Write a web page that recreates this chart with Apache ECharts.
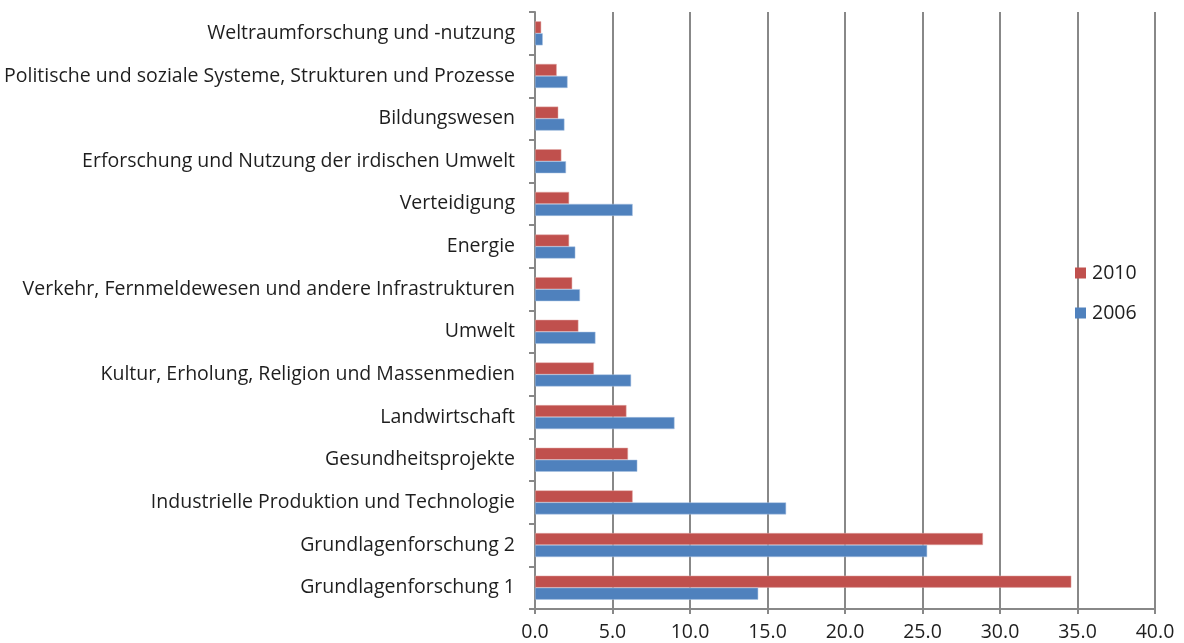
<!DOCTYPE html>
<html>
<head>
<meta charset="utf-8">
<script src="https://cdn.jsdelivr.net/npm/echarts@6/dist/echarts.min.js"></script>
<style>
  html, body { margin: 0; padding: 0; background: #fff; }
  #chart { width: 1184px; height: 643px; }
</style>
</head>
<body>
<div id="chart"></div>
<script>
// Categories listed from the bottom of the axis to the top
const categories = [
  'Grundlagenforschung 1',
  'Grundlagenforschung 2',
  'Industrielle Produktion und Technologie',
  'Gesundheitsprojekte',
  'Landwirtschaft',
  'Kultur, Erholung, Religion und Massenmedien',
  'Umwelt',
  'Verkehr, Fernmeldewesen und andere Infrastrukturen',
  'Energie',
  'Verteidigung',
  'Erforschung und Nutzung der irdischen Umwelt',
  'Bildungswesen',
  'Politische und soziale Systeme, Strukturen und Prozesse',
  'Weltraumforschung und -nutzung'
];
const values2010 = [34.6, 28.9, 6.3, 6.0, 5.9, 3.8, 2.8, 2.4, 2.2, 2.2, 1.7, 1.5, 1.4, 0.4];
const values2006 = [14.4, 25.3, 16.2, 6.6, 9.0, 6.2, 3.9, 2.9, 2.6, 6.3, 2.0, 1.9, 2.1, 0.5];
const xTicks = { min: 0, max: 40, step: 5 };

const FONT = '"Open Sans", "Noto Sans", sans-serif';
const AXIS_GRAY = '#888888';
const TEXT = '#1e1e1e';
const FS = 19.5;

const chart = echarts.init(document.getElementById('chart'), null, { renderer: 'canvas' });
chart.setOption({
  animation: false,
  textStyle: { fontFamily: FONT },
  grid: { left: 535, right: 29, top: 12, bottom: 34, containLabel: false },
  legend: {
    orient: 'vertical',
    left: 1070,
    top: 257,
    data: ['2010', '2006'],
    icon: 'rect',
    itemWidth: 11,
    itemHeight: 11,
    itemGap: 18,
    itemStyle: { borderWidth: 0 },
    textStyle: { fontFamily: FONT, fontSize: FS, color: TEXT, lineHeight: 22, padding: [0, 0, 0, 1] }
  },
  xAxis: {
    type: 'value',
    min: xTicks.min,
    max: xTicks.max,
    interval: xTicks.step,
    axisLine: { show: true, lineStyle: { color: AXIS_GRAY, width: 2 } },
    axisTick: { show: true, length: 5, lineStyle: { color: AXIS_GRAY, width: 2 } },
    splitLine: { show: true, lineStyle: { color: AXIS_GRAY, width: 2 } },
    axisLabel: {
      fontFamily: FONT, fontSize: FS, color: TEXT, margin: 13,
      formatter: v => v.toFixed(1)
    }
  },
  yAxis: {
    type: 'category',
    data: categories,
    axisLine: { show: true, lineStyle: { color: AXIS_GRAY, width: 2 } },
    axisTick: { show: true, length: 6, lineStyle: { color: AXIS_GRAY, width: 2 } },
    axisLabel: { fontFamily: FONT, fontSize: FS, color: TEXT, margin: 20 }
  },
  series: [
    {
      name: '2010',
      type: 'bar',
      data: values2010,
      barWidth: 12,
      barGap: '0%',
      itemStyle: { color: '#C0504D', borderColor: '#E0A8A6', borderWidth: 0.5 }
    },
    {
      name: '2006',
      type: 'bar',
      data: values2006,
      barWidth: 12,
      barGap: '0%',
      itemStyle: { color: '#4F81BD', borderColor: '#A9C2E3', borderWidth: 0.5 }
    }
  ]
});
</script>
</body>
</html>
